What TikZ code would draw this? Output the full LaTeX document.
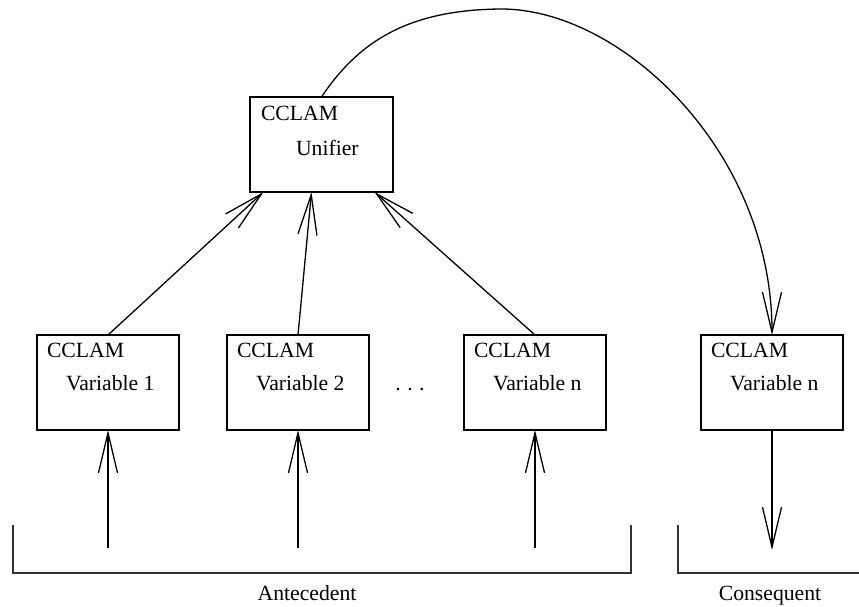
\documentclass[tikz,border=0pt]{standalone}
\usepackage{fontspec}
\setmainfont{Liberation Serif}
\usetikzlibrary{arrows.meta,calc}
\begin{document}
\begin{tikzpicture}[x=1pt,y=-1pt,
  every node/.style={font=\fontsize{21.7}{26}\selectfont, inner sep=0pt, outer sep=0pt},
  box/.style={draw, line width=1.2pt, minimum width=142pt, minimum height=95pt, anchor=north west},
  lbl/.style={anchor=base west},
  link/.style={line width=1.3pt, -{Straight Barb[length=40pt,width=19pt]}},
  bracket/.style={line width=1.1pt, black!80}]
\useasboundingbox (0,0) rectangle (859,606);

% unifier and the variable modules
\node[box, minimum width=143pt] (u) at (250,97) {};
\node[box] (v1) at (37,335) {};
\node[box] (v2) at (227,335) {};
\node[box] (vn) at (464,335) {};
\node[box] (c) at (701,335) {};

% box texts
\node[lbl] (ut) at ($(u.north west)+(11,23)$) {CCLAM};
\node[lbl] (us) at ($(u.north west)+(46,58)$) {Unifier};
\foreach \b/\t in {v1/Variable 1, v2/Variable 2, vn/Variable n, c/Variable n} {
  \node[lbl] (\b t) at ($(\b.north west)+(10,22)$) {CCLAM};
  \node[lbl] (\b s) at ($(\b.north west)+(29,55)$) {\t};
}
\node[anchor=base] (dots) at (410,390) {.\hspace{0.3em}.\hspace{0.3em}.};

% variables feed the unifier
\draw[link] (v1.north) -- ([xshift=-58pt]u.south);
\draw[link] (v2.north) -- ([xshift=-10pt]u.south);
\draw[link] (vn.north) -- ([xshift=53pt]u.south);

% unifier drives the consequent
\draw[link] (u.north) .. controls +(38,-57) and (410,10) .. (500,9)
  .. controls (620,8) and (772,150) .. (c.north);

% inputs and output
\coordinate (i1) at ($(v1.south)+(0,118)$);
\coordinate (i2) at ($(v2.south)+(0,118)$);
\coordinate (in) at ($(vn.south)+(0,118)$);
\coordinate (o) at ($(c.south)+(0,120)$);
\draw[link] (i1) -- (v1.south);
\draw[link] (i2) -- (v2.south);
\draw[link] (in) -- (vn.south);
\draw[link] (c.south) -- (o);

% brackets
\draw[bracket] (13,525) -- (13,573) -- (631,573) -- (631,525);
\draw[bracket] (678,525) -- (678,573) -- (859,573);
\node[anchor=base] (ante) at (307,600) {Antecedent};
\node[anchor=base] (cons) at (770,600) {Consequent};
\end{tikzpicture}
\end{document}
